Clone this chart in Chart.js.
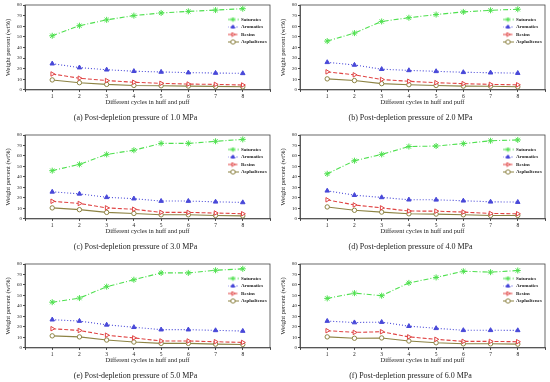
<!DOCTYPE html>
<html>
<head>
<meta charset="utf-8">
<script src="https://cdn.jsdelivr.net/npm/chart.js@4.4.1/dist/chart.umd.min.js"></script>
<style>
  html, body { margin: 0; padding: 0; background: #fff; }
  #wrap { position: relative; width: 550px; height: 382px; overflow: hidden; }
  .panel { position: absolute; width: 275px; height: 124px; }
</style>
</head>
<body>
<div id="wrap"></div>
<script>
// cycles in huff and puff
const cycles = [1, 2, 3, 4, 5, 6, 7, 8];
const seriesNames = ["Saturates", "Aromatics", "Resins", "Asphaltenes"];
const captions = [
  "(a) Post-depletion pressure of 1.0 MPa",
  "(b) Post-depletion pressure of 2.0 MPa",
  "(c) Post-depletion pressure of 3.0 MPa",
  "(d) Post-depletion pressure of 4.0 MPa",
  "(e) Post-depletion pressure of 5.0 MPa",
  "(f) Post-depletion pressure of 6.0 MPa"
];
const yTicks = [0, 10, 20, 30, 40, 50, 60, 70, 80];

// weight percent (wt%)
const satA = [51, 60.5, 66, 70, 72.5, 74, 75.2, 76.5];
const aroA = [24.7, 21, 19, 17.6, 16.9, 16.3, 15.9, 15.6];
const resA = [15, 11, 8.8, 7.2, 6.2, 5.5, 5.2, 4.6];
const aspA = [9.4, 6.8, 5.2, 4.2, 3.9, 3.6, 3.3, 2.9];

const satB = [46, 53.5, 64.5, 68, 71, 73.5, 75, 76];
const aroB = [26, 23.5, 19.5, 18.4, 17.5, 16.6, 16.2, 15.8];
const resB = [17, 14.2, 9.8, 8.1, 6.8, 5.9, 5.2, 4.8];
const aspB = [10.4, 8.8, 5.9, 4.9, 4.2, 3.6, 3.5, 2.9];

const satC = [46, 52, 61.5, 65.5, 72, 72, 74, 75.8];
const aroC = [25.8, 23.9, 20.6, 19.3, 17, 17, 16.3, 15.7];
const resC = [16.8, 14.7, 10.5, 9.2, 6.2, 6.2, 5.6, 4.9];
const aspC = [10.5, 8.8, 6.2, 5.2, 3.9, 3.9, 3.3, 2.9];

const satD = [43, 55.5, 61.5, 69, 69.5, 71.8, 74.5, 75.3];
const aroD = [26.8, 22.6, 20.5, 18.3, 18.2, 17.3, 16.3, 16];
const resD = [18.2, 13.3, 10.5, 7.5, 7.4, 6.5, 5.2, 4.9];
const aspD = [11.4, 8.2, 6.5, 4.9, 4.6, 3.9, 3.3, 3.3];

const satE = [43.6, 47.5, 58.4, 65, 71.5, 71.5, 74, 75.4];
const aroE = [26.9, 25.6, 22, 19.7, 17.4, 17.4, 16.7, 16.1];
const resE = [18.3, 16.6, 12.1, 9.5, 6.6, 6.6, 5.9, 5.2];
const aspE = [11.5, 10.5, 7.5, 5.6, 4.3, 4.3, 3.6, 3.3];

const satF = [47.2, 52.2, 49.8, 62, 67.2, 73.1, 72.2, 73.8];
const aroF = [25.6, 24.2, 24.6, 20.7, 18.7, 16.8, 16.8, 16.7];
const resF = [16.4, 14.8, 15.4, 10.5, 8.2, 6.2, 6.2, 5.9];
const aspF = [10.5, 9.2, 9.5, 6.6, 4.9, 3.9, 3.9, 3.6];

const panelData = [
  [satA, aroA, resA, aspA],
  [satB, aroB, resB, aspB],
  [satC, aroC, resC, aspC],
  [satD, aroD, resD, aspD],
  [satE, aroE, resE, aspE],
  [satF, aroF, resF, aspF]
];

// left, top, inner top padding of each panel
const panelPos = [[0, 0, 5], [275, 0, 5], [0, 129, 6], [275, 129, 6], [0, 258, 6], [275, 258, 6]];

const serif = "'Liberation Serif', 'Times New Roman', serif";
const ink = "#222";

const styles = [
  { color: "#4fe04f", dash: [5, 2, 1, 2], point: "star", rot: 0, fill: "#4fe04f", r: 3 },
  { color: "#4848d8", dash: [1, 2], point: "triangle", rot: 0, fill: "#4848d8", r: 2.6 },
  { color: "#e04444", dash: [4, 2], point: "triangle", rot: 90, fill: "#fff", r: 2.6 },
  { color: "#8d8344", dash: [], point: "circle", rot: 0, fill: "#fff", r: 2.2 }
];

// little line+marker samples for the legend
function makeSample(s) {
  const c = document.createElement("canvas");
  c.width = 11; c.height = 6;
  const g = c.getContext("2d");
  g.strokeStyle = s.color;
  g.lineWidth = 1;
  g.setLineDash(s.dash);
  g.beginPath(); g.moveTo(0, 3); g.lineTo(11, 3); g.stroke();
  g.setLineDash([]);
  if (Chart.helpers && Chart.helpers.drawPoint) {
    g.fillStyle = s.fill;
    Chart.helpers.drawPoint(g, { pointStyle: s.point, rotation: s.rot, radius: 2.2, borderWidth: 1 }, 5.5, 3);
  }
  return c;
}
const samples = styles.map(makeSample);

const frame = {
  id: "frame",
  beforeDatasetsDraw(chart) {
    const a = chart.chartArea, ctx = chart.ctx;
    ctx.save();
    ctx.strokeStyle = "#444";
    ctx.lineWidth = 0.8;
    ctx.strokeRect(a.left, a.top, a.right - a.left, a.bottom - a.top);
    ctx.restore();
  }
};

const legendMover = {
  id: "legendMover",
  afterLayout(chart) {
    const l = chart.legend, a = chart.chartArea;
    if (!l) return;
    const h = l.height;
    l.left = a.right - 45;
    l.right = l.left + l.width;
    l.top = a.top + 9.5;
    l.bottom = l.top + h;
  }
};

const wrap = document.getElementById("wrap");
panelData.forEach((series, i) => {
  const [px, py, padTop] = panelPos[i];
  const div = document.createElement("div");
  div.className = "panel";
  div.style.left = px + "px";
  div.style.top = py + "px";
  const cv = document.createElement("canvas");
  div.appendChild(cv);
  wrap.appendChild(div);

  new Chart(cv, {
    type: "line",
    data: {
      datasets: series.map((vals, k) => ({
        label: seriesNames[k],
        data: cycles.map((c, j) => ({ x: c, y: vals[j] })),
        borderColor: styles[k].color,
        backgroundColor: styles[k].fill,
        borderWidth: 1.1,
        borderDash: styles[k].dash,
        pointStyle: styles[k].point,
        pointRotation: styles[k].rot,
        pointRadius: styles[k].r,
        pointBorderWidth: 1,
        pointBorderColor: styles[k].color,
        pointBackgroundColor: styles[k].fill,
        tension: 0
      }))
    },
    options: {
      responsive: true,
      maintainAspectRatio: false,
      animation: false,
      layout: { padding: { top: padTop, right: 4, left: 0, bottom: 0 } },
      scales: {
        x: {
          type: "linear",
          min: 0,
          max: 9,
          ticks: {
            stepSize: 1,
            font: { family: serif, size: 5.5 },
            color: ink,
            padding: 1,
            maxRotation: 0,
            callback: (v) => (v >= 1 && v <= 8 ? v : "")
          },
          grid: { drawOnChartArea: false, tickLength: 2, color: "#444" },
          border: { color: "#444", width: 0.8 },
          title: {
            display: true,
            text: "Different cycles in huff and puff",
            font: { family: serif, size: 6.5 },
            color: ink,
            padding: { top: 0, bottom: 4 }
          },
          afterFit: (s) => { s.height = 20; }
        },
        y: {
          min: 0,
          max: 80,
          afterBuildTicks: (s) => { s.ticks = yTicks.map((v) => ({ value: v })); },
          ticks: { font: { family: serif, size: 5 }, color: ink, padding: 1 },
          grid: { drawOnChartArea: false, tickLength: 2, color: "#444" },
          border: { color: "#444", width: 0.8 },
          title: {
            display: true,
            text: "Weight percent (wt%)",
            font: { family: serif, size: 6.5 },
            color: ink,
            padding: { top: 4, bottom: 0 }
          },
          afterFit: (s) => { s.width = 25; }
        }
      },
      plugins: {
        legend: {
          position: "chartArea",
          align: "start",
          labels: {
            usePointStyle: true,
            pointStyleWidth: 11,
            padding: 2.5,
            color: ink,
            font: { family: serif, size: 5, weight: "bold" },
            generateLabels: (chart) => {
              const items = Chart.defaults.plugins.legend.labels.generateLabels(chart);
              items.forEach((it, k) => { it.pointStyle = samples[k]; it.rotation = 0; });
              return items;
            }
          }
        },
        title: {
          display: true,
          position: "bottom",
          text: captions[i],
          font: { family: serif, size: 8, weight: "normal" },
          color: ink,
          padding: { top: 3, bottom: 1.5 }
        },
        tooltip: { enabled: false }
      }
    },
    plugins: [frame, legendMover]
  });
});
</script>
</body>
</html>
